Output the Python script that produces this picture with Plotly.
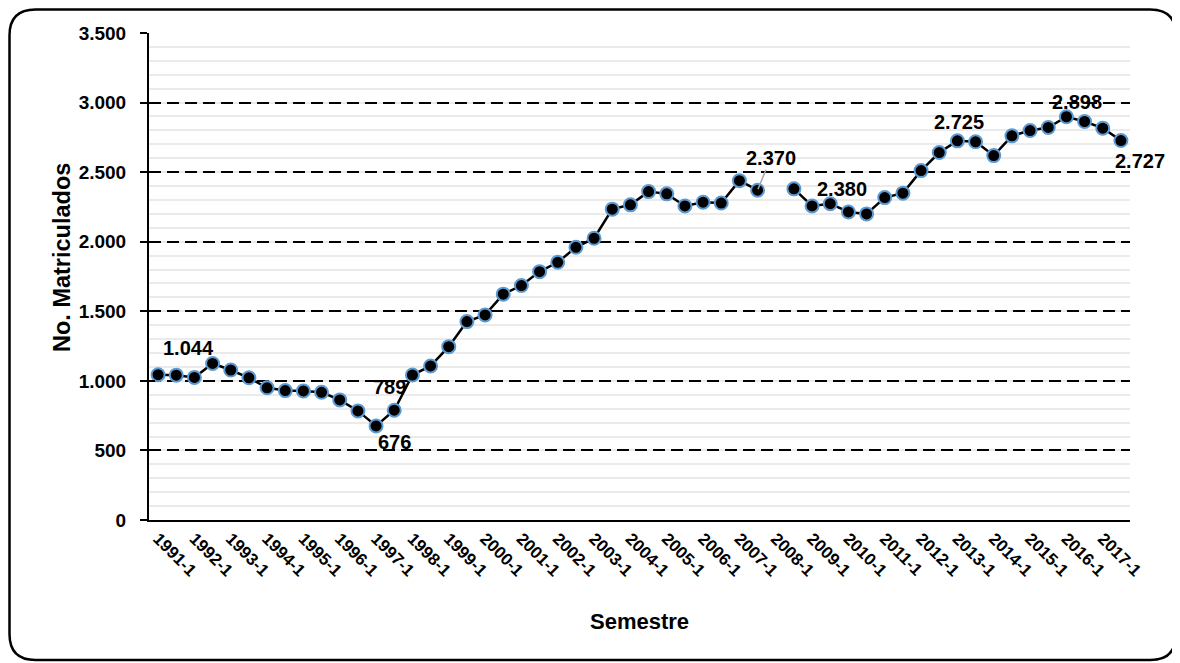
import plotly.graph_objects as go

# ---------------- data ----------------
years = list(range(1991, 2018))
semestres = [f"{y}-{s}" for y in years for s in (1, 2)]
tick_labels = [f"{y}-1" for y in years]

matriculados = [
    1044, 1041, 1025, 1125, 1078, 1022, 950, 930, 928, 918,
    863, 784, 676, 789, 1042, 1107, 1246, 1426, 1474, 1623,
    1685, 1785, 1852, 1960, 2025, 2234, 2265, 2360, 2344, 2257,
    2284, 2278, 2439, 2370, None, 2380, 2257, 2273, 2214, 2200,
    2317, 2349, 2511, 2641, 2725, 2718, 2619, 2761, 2799, 2821,
    2898, 2864, 2816, 2727,
]

# labelled points: (index, text, xshift, yshift)
etiquetas = [
    (0, "1.044", 30, 27),
    (12, "676", 18, -16),
    (13, "789", -5, 23),
    (35, "2.380", 48, 0),
    (44, "2.725", 2, 19),
    (50, "2.898", 11, 15),
    (53, "2.727", 19, -20),
]
etiqueta_flecha = (33, "2.370", 13, -32)

y_ticks = [0, 500, 1000, 1500, 2000, 2500, 3000, 3500]
y_tick_text = ["0", "500", "1.000", "1.500", "2.000", "2.500", "3.000", "3.500"]

# ---------------- layout constants ----------------
OFF = 8                      # page body margin
W, H = 1180 - OFF, 663 - OFF
PLOT_L, PLOT_R, PLOT_T, PLOT_B = 149, 1130, 33, 520   # page pixels
L, T = PLOT_L - OFF, PLOT_T - OFF
PW, PH = PLOT_R - PLOT_L, PLOT_B - PLOT_T
R, B = W - L - PW, H - T - PH
FONT = "Liberation Sans, Arial, sans-serif"


def px_x(px):
    return (px - PLOT_L) / PW


def px_y(py):
    return (PLOT_B - py) / PH


fig = go.Figure()
fig.add_trace(go.Scatter(
    x=semestres, y=matriculados, mode="lines+markers",
    connectgaps=False,
    line=dict(color="black", width=2.5),
    marker=dict(size=13, color="black", line=dict(color="#5B9BD5", width=2)),
    showlegend=False, cliponaxis=False,
))
# invisible trace so that the inner tick axis is drawn
fig.add_trace(go.Scatter(x=[semestres[0]], y=[0], yaxis="y2", mode="markers",
                         marker=dict(opacity=0), showlegend=False, hoverinfo="skip"))

LBL = dict(family=FONT, size=20, color="black")
annotations = []
for idx, txt, dx, dy in etiquetas:
    annotations.append(dict(
        x=semestres[idx], y=matriculados[idx], text=f"<b>{txt}</b>", showarrow=False,
        xshift=dx, yshift=dy, font=LBL,
    ))
idx, txt, dx, dy = etiqueta_flecha
annotations.append(dict(
    x=semestres[idx], y=matriculados[idx], text=f"<b>{txt}</b>", showarrow=True,
    ax=dx, ay=dy, arrowhead=0, arrowwidth=1.5, arrowcolor="#A6A6A6", standoff=1,
    font=LBL, borderpad=0,
))
annotations.append(dict(
    xref="paper", yref="paper", x=px_x(62), y=px_y(258), text="<b>No. Matriculados</b>",
    textangle=-90, showarrow=False, xanchor="center", yanchor="middle",
    font=dict(family=FONT, size=23.5, color="black"),
))
annotations.append(dict(
    xref="paper", yref="paper", x=px_x(639), y=px_y(621), text="<b>Semestre</b>",
    showarrow=False, xanchor="center", yanchor="middle",
    font=dict(family=FONT, size=22, color="black"),
))

# rounded frame (page pixels, clamped to the figure area)
fx0, fx1, fy0, fy1, rr = OFF + 1.5, 1176, OFF + 1.5, 660, 26
x0, x1 = px_x(fx0), px_x(fx1)
ya, yb = px_y(fy0), px_y(fy1)
rx, ry = rr / PW, rr / PH
path = (f"M {x0+rx},{ya} L {x1-rx},{ya} Q {x1},{ya} {x1},{ya-ry} "
        f"L {x1},{yb+ry} Q {x1},{yb} {x1-rx},{yb} L {x0+rx},{yb} "
        f"Q {x0},{yb} {x0},{yb+ry} L {x0},{ya-ry} Q {x0},{ya} {x0+rx},{ya} Z")

fig.update_layout(
    width=W, height=H,
    margin=dict(l=L, r=R, t=T, b=B),
    paper_bgcolor="white", plot_bgcolor="white",
    font=dict(family=FONT, color="black"),
    annotations=annotations,
    shapes=[dict(type="path", path=path, xref="paper", yref="paper",
                 line=dict(color="black", width=2.5), layer="above")],
    xaxis=dict(
        type="category", categoryorder="array", categoryarray=semestres,
        range=[-0.5, len(semestres) - 0.5],
        tickmode="array", tickvals=tick_labels, ticktext=[f"<b>{t}</b>" for t in tick_labels],
        tickangle=45, tickfont=dict(family=FONT, size=17, color="black"),
        ticks="", showgrid=False, showline=True, linecolor="black", linewidth=2,
        zeroline=False, fixedrange=True,
    ),
    yaxis=dict(
        range=[0, 3500], tickmode="array", tickvals=y_ticks,
        ticktext=[f"<b>{t}</b>" for t in y_tick_text],
        tickfont=dict(family=FONT, size=19, color="black"),
        ticks="outside", ticklen=7, tickwidth=2, tickcolor="black",
        showline=True, linecolor="black", linewidth=2,
        showgrid=True, gridcolor="black", gridwidth=2, griddash="12px,6px",
        minor=dict(dtick=100, showgrid=True, gridcolor="#EBEBEB", gridwidth=1.5,
                   griddash="solid", ticks=""),
        zeroline=False, ticklabelstandoff=10,
    ),
    yaxis2=dict(
        range=[0, 3500], overlaying="y", side="left", tickmode="array", tickvals=y_ticks,
        ticks="inside", ticklen=6, tickwidth=2, tickcolor="black",
        showticklabels=False, showgrid=False, showline=False, zeroline=False,
    ),
)

fig.write_html("out.html")
